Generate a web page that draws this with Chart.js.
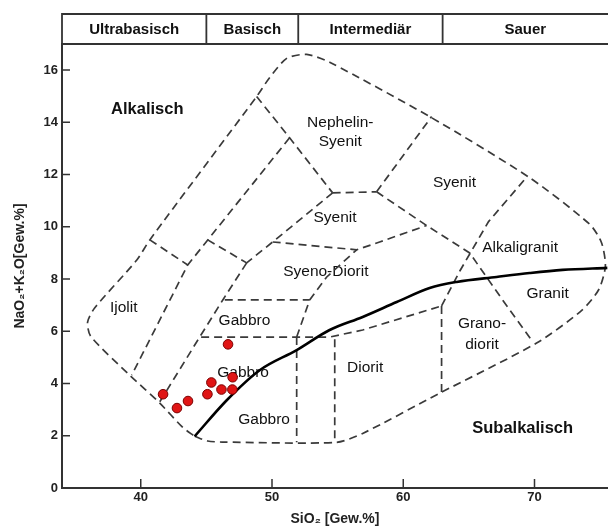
<!DOCTYPE html>
<html>
<head>
<meta charset="utf-8">
<script src="https://cdn.jsdelivr.net/npm/chart.js@4.4.0/dist/chart.umd.min.js"></script>
<style>
  html, body { margin: 0; padding: 0; background: #fff; overflow: hidden; }
  canvas { display: block; }
</style>
</head>
<body>
<canvas id="tasChart" width="608" height="529"></canvas>
<script>
// axis ticks
var siO2Ticks = [40, 50, 60, 70];
var alkaliTicks = [0, 2, 4, 6, 8, 10, 12, 14, 16];

// samples (red dots)
var sampleSiO2 = [46.65, 45.38, 46.15, 46.98, 47.0, 45.08, 43.6, 42.76, 41.7];
var sampleAlkali = [5.5, 4.04, 3.77, 3.77, 4.24, 3.59, 3.33, 3.06, 3.59];

// alkaline / subalkaline divider (solid)
var dividerSiO2 = [44.11, 46.55, 49.06, 51.88, 54.39, 56.91, 59.5, 62.01, 64.07, 67.11, 69.63, 72.14, 75.55];
var dividerAlkali = [1.98, 3.36, 4.51, 5.28, 6.05, 6.55, 7.12, 7.66, 7.89, 8.08, 8.23, 8.35, 8.43];

// field boundaries (dashed), [SiO2, Na2O+K2O]
var outerField = [[44.11, 1.98], [45.1, 1.8], [46.2, 1.76], [54.93, 1.75], [56.91, 2.09], [62.77, 3.63],
  [70.16, 5.55], [73.6, 6.8], [74.9, 7.6], [75.4, 8.5], [75.1, 9.4], [74.2, 10.1], [69.63, 11.88],
  [62.01, 14.22], [54.39, 16.3], [52.64, 16.6], [51.12, 16.45], [49.8, 15.7], [48.83, 14.99],
  [40.69, 9.5], [39.7, 8.73], [36.5, 6.9], [35.95, 6.35], [36.2, 5.8], [39.16, 4.32], [41.45, 3.25],
  [43.2, 2.32], [44.11, 1.98]];
var nephelinLeft = [[48.83, 14.99], [51.34, 13.41], [54.62, 11.3]];
var nephelinBase = [[54.62, 11.3], [57.97, 11.34]];
var nephelinRight = [[57.97, 11.34], [62.16, 14.22]];
var syenitRight = [[57.97, 11.34], [61.78, 10.05], [65.06, 9.0], [67.57, 7.2], [69.86, 5.6]];
var syenitLeft = [[54.62, 11.3], [50.05, 9.42], [48.07, 8.62]];
var syenitBase = [[50.05, 9.42], [56.45, 9.12], [58.2, 9.42], [61.78, 10.05]];
var alkaligranitLeft = [[62.92, 6.97], [64.3, 8.3], [66.5, 10.2], [69.4, 11.9]];
var ijolitRight = [[51.34, 13.41], [43.58, 8.54], [39.31, 4.32]];
var ijolitTop = [[40.69, 9.5], [43.58, 8.54]];
var gabbroLeft = [[48.07, 8.62], [46.25, 7.2], [44.49, 5.78], [41.45, 3.3]];
var gabbroSpur = [[45.1, 9.5], [48.07, 8.62]];
var gabbroBoxTop = [[46.4, 7.2], [52.87, 7.2]];
var dioritTop = [[44.6, 5.78], [54.4, 5.78], [56.91, 6.05], [62.92, 6.97]];
var syenodioritRight = [[51.88, 5.78], [52.87, 7.2], [54.17, 8.08], [56.45, 9.12]];
var gabbroRight = [[51.88, 5.78], [51.88, 1.75]];
var dioritLeft = [[54.78, 5.7], [54.78, 1.75]];
var granodioritLeft = [[62.92, 6.97], [62.92, 3.68]];

// field names
var fieldNames = ["Nephelin-", "Syenit", "Syenit", "Syenit", "Syeno-Diorit", "Alkaligranit", "Granit",
  "Grano-", "diorit", "Diorit", "Ijolit", "Gabbro", "Gabbro", "Gabbro"];
var fieldSiO2 = [55.2, 55.2, 63.9, 54.8, 54.1, 68.9, 71.0, 66.0, 66.0, 57.1, 38.7, 47.9, 47.8, 49.4];
var fieldAlkali = [14.0, 13.25, 11.7, 10.35, 8.27, 9.2, 7.45, 6.3, 5.5, 4.6, 6.9, 6.4, 4.4, 2.6];

var seriesNames = ["Alkalisch", "Subalkalisch"];
var seriesSiO2 = [40.5, 69.1];
var seriesAlkali = [14.5, 2.28];

// acidity classes along the top
var classNames = ["Ultrabasisch", "Basisch", "Intermediär", "Sauer"];
var classBounds = [34, 45, 52, 63, 75.6];

function toPoints(xs, ys) {
  return xs.map(function (x, i) { return { x: x, y: ys[i] }; });
}
function pairs(arr) {
  return arr.map(function (p) { return { x: p[0], y: p[1] }; });
}

var boundaryLines = [outerField, nephelinLeft, nephelinBase, nephelinRight, syenitRight, syenitLeft,
  syenitBase, alkaligranitLeft, ijolitRight, ijolitTop, gabbroLeft, gabbroSpur, gabbroBoxTop,
  dioritTop, syenodioritRight, gabbroRight, dioritLeft, granodioritLeft];

var datasets = [
  {
    data: toPoints(sampleSiO2, sampleAlkali),
    backgroundColor: "#e01515",
    borderColor: "#7a0000",
    borderWidth: 1,
    pointRadius: 4.8,
    order: 0,
  },
  {
    data: toPoints(dividerSiO2, dividerAlkali),
    showLine: true,
    borderColor: "#000",
    borderWidth: 2.6,
    pointRadius: 0,
    cubicInterpolationMode: "monotone",
    order: 1,
  },
];
boundaryLines.forEach(function (line, i) {
  datasets.push({
    data: pairs(line),
    showLine: true,
    borderColor: "#3a3a3a",
    borderWidth: 1.7,
    borderDash: [8, 5],
    pointRadius: 0,
    tension: i === 0 ? 0.25 : 0,
    order: 2,
  });
});

var tickFont = { family: "Liberation Sans", size: 13, weight: "bold" };
var titleFont = { family: "Liberation Sans", size: 14, weight: "bold" };

// header row, inward ticks and field labels
var decorations = {
  id: "decorations",
  beforeDatasetsDraw: function (chart) {
    var ctx = chart.ctx, x = chart.scales.x, y = chart.scales.y;
    ctx.save();
    ctx.fillStyle = "#111";
    ctx.textAlign = "center";
    ctx.textBaseline = "middle";
    ctx.font = "15.5px 'Liberation Sans'";
    fieldNames.forEach(function (name, i) {
      ctx.fillText(name, x.getPixelForValue(fieldSiO2[i]), y.getPixelForValue(fieldAlkali[i]));
    });
    ctx.font = "bold 16.5px 'Liberation Sans'";
    seriesNames.forEach(function (name, i) {
      ctx.fillText(name, x.getPixelForValue(seriesSiO2[i]), y.getPixelForValue(seriesAlkali[i]));
    });
    ctx.restore();
  },
  afterDraw: function (chart) {
    var ctx = chart.ctx, a = chart.chartArea, x = chart.scales.x, y = chart.scales.y;
    var headTop = 14;
    ctx.save();
    ctx.strokeStyle = "#333";
    ctx.lineWidth = 1.8;
    ctx.beginPath();
    ctx.moveTo(a.left, a.top);
    ctx.lineTo(a.left, headTop);
    ctx.lineTo(a.right, headTop);
    ctx.moveTo(a.left, a.top);
    ctx.lineTo(a.right, a.top);
    for (var i = 1; i < classBounds.length - 1; i++) {
      var px = x.getPixelForValue(classBounds[i]);
      ctx.moveTo(px, headTop);
      ctx.lineTo(px, a.top);
    }
    ctx.stroke();

    ctx.fillStyle = "#111";
    ctx.font = "bold 15px 'Liberation Sans'";
    ctx.textAlign = "center";
    ctx.textBaseline = "middle";
    classNames.forEach(function (name, i) {
      var l = x.getPixelForValue(classBounds[i]);
      var r = Math.min(x.getPixelForValue(classBounds[i + 1]), a.right);
      ctx.fillText(name, (l + r) / 2, (headTop + a.top) / 2 + 1);
    });

    ctx.lineWidth = 1.5;
    ctx.beginPath();
    siO2Ticks.forEach(function (v) {
      var px = x.getPixelForValue(v);
      ctx.moveTo(px, a.bottom);
      ctx.lineTo(px, a.bottom - 9);
    });
    alkaliTicks.forEach(function (v) {
      if (v === 0) return;
      var py = y.getPixelForValue(v);
      ctx.moveTo(a.left, py);
      ctx.lineTo(a.left + 8, py);
    });
    ctx.stroke();
    ctx.restore();
  },
};

new Chart(document.getElementById("tasChart"), {
  type: "scatter",
  data: { datasets: datasets },
  options: {
    responsive: false,
    animation: false,
    layout: { autoPadding: false, padding: { top: 44, right: 0, left: 0, bottom: 0 } },
    plugins: { legend: { display: false }, tooltip: { enabled: false } },
    scales: {
      x: {
        type: "linear",
        min: 34,
        max: 75.6,
        grid: { display: false, drawTicks: false },
        border: { color: "#333", width: 2 },
        afterBuildTicks: function (s) { s.ticks = siO2Ticks.map(function (v) { return { value: v }; }); },
        afterFit: function (s) { s.height = 41; s.paddingLeft = 0; s.paddingRight = 0; },
        ticks: { font: tickFont, color: "#222", padding: 2 },
        title: {
          display: true,
          text: "SiO₂ [Gew.%]",
          font: titleFont,
          color: "#222",
          padding: { top: 0, bottom: 1 },
        },
      },
      y: {
        type: "linear",
        min: 0,
        max: 17,
        grid: { display: false, drawTicks: false },
        border: { color: "#333", width: 2 },
        afterBuildTicks: function (s) { s.ticks = alkaliTicks.map(function (v) { return { value: v }; }); },
        afterFit: function (s) { s.width = 62; s.paddingTop = 0; s.paddingBottom = 0; },
        ticks: { font: tickFont, color: "#222", padding: 4 },
        title: {
          display: true,
          text: "NaO₂+K₂O[Gew.%]",
          font: titleFont,
          color: "#222",
          padding: { top: 12, bottom: 0 },
        },
      },
    },
  },
  plugins: [decorations],
});
</script>
</body>
</html>
